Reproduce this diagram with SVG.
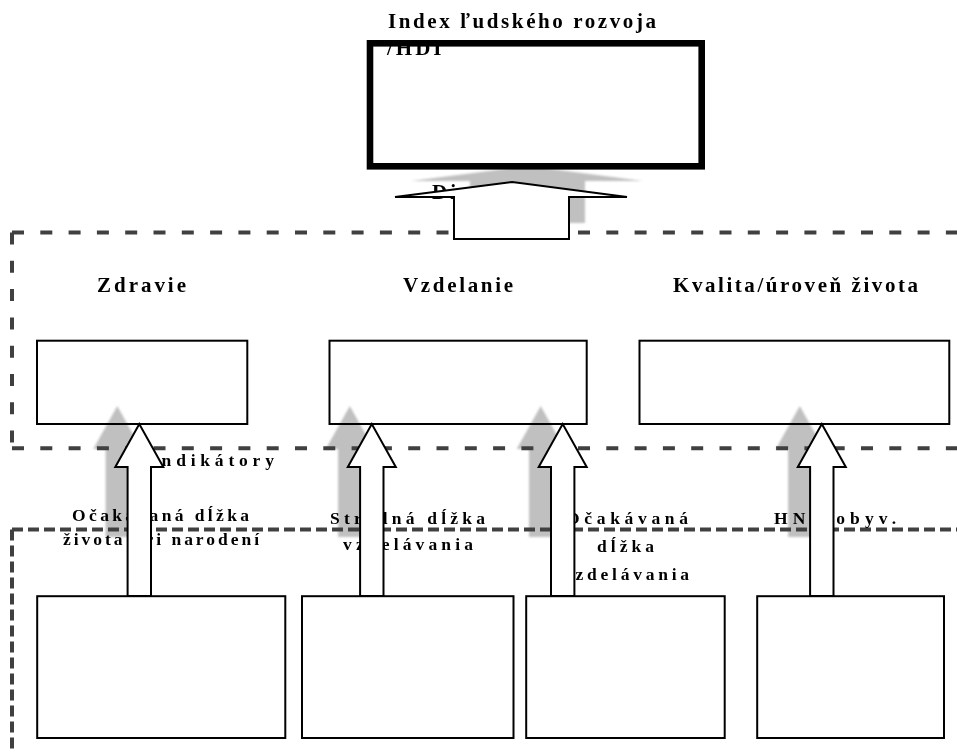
<svg xmlns="http://www.w3.org/2000/svg" xmlns:xlink="http://www.w3.org/1999/xlink" width="957" height="753" viewBox="0 0 957 753">
<style>
text{font-family:"Liberation Serif","Times New Roman",serif;font-weight:bold;fill:#000}
.h{font-size:21px}
.l{font-size:17.5px}
.box{fill:none;stroke:#000;stroke-width:2}
.boxw{fill:#fff;stroke:#000;stroke-width:2}
.dashU{fill:none;stroke:#404040;stroke-width:4;stroke-dasharray:12 16.3}
.dashL{fill:none;stroke:#404040;stroke-width:4;stroke-dasharray:11 5}
.arrow{fill:#fff;stroke:#000;stroke-width:2;stroke-linejoin:miter}
.shadow{fill:#c0c0c0;stroke:none}
</style>
<defs>
<filter id="soft" x="-30%" y="-30%" width="160%" height="160%"><feGaussianBlur stdDeviation="1.2"/></filter>
<path id="upArrow" d="M-11.7,172 V43 H-24 L0,0 L24,43 H11.7 V172 Z"/>
<path id="upShadow" d="M-11.7,131 V43 H-24 L0,0 L24,43 H11.7 V131 Z"/>
</defs>
<rect x="0" y="0" width="957" height="753" fill="#fff"/>

<g id="shadows" class="shadow" filter="url(#soft)">
<polygon points="470,223 470,181 411,181 528,166 643,181 585,181 585,223"/>
<use xlink:href="#upShadow" transform="translate(117.3,406)"/>
<use xlink:href="#upShadow" transform="translate(349.8,406)"/>
<use xlink:href="#upShadow" transform="translate(540.7,406)"/>
<use xlink:href="#upShadow" transform="translate(799.8,406)"/>
</g>

<g id="layer-dimenzie">
<path class="dashU" d="M12,232.5 H957"/>
<path class="dashU" d="M12,232.5 V448.3"/>
<path class="dashU" d="M12,448.3 H957"/>
<text class="h" x="432" y="199" letter-spacing="3">Dimenzie</text>
</g>

<g id="layer-indikatory">
<path class="dashL" d="M12,529.5 H957"/>
<path class="dashL" d="M12,529.5 V753"/>
<text class="l" x="150" y="466" letter-spacing="4.8">Indikátory</text>
</g>

<g id="hdi">
<rect x="370" y="43.3" width="331.7" height="123" fill="#fff" stroke="#000" stroke-width="6.6"/>
<text class="h" x="388" y="28" textLength="268">Index ľudského rozvoja</text>
<text class="h" x="387" y="55" letter-spacing="3">/HDI</text>
</g>

<g id="zdravie">
<rect class="box" x="37" y="340.7" width="210.3" height="83.3"/>
<text class="h" x="97" y="291.5" textLength="89">Zdravie</text>
</g>
<g id="vzdelanie">
<rect class="box" x="329.5" y="340.7" width="257.2" height="83.3"/>
<text class="h" x="403" y="291.5" textLength="110">Vzdelanie</text>
</g>
<g id="kvalita">
<rect class="box" x="639.5" y="340.7" width="309.8" height="83.3"/>
<text class="h" x="673" y="291.5" textLength="245">Kvalita/úroveň života</text>
</g>

<g id="ind-ocakavana-dlzka-zivota">
<rect class="boxw" x="37.2" y="596.2" width="248.1" height="141.8"/>
<text class="l" x="72" y="521" textLength="177">Očakávaná dĺžka</text>
<text class="l" x="63" y="544.5" textLength="196">života pri narodení</text>
</g>
<g id="ind-stredna-dlzka-vzdelavania">
<rect class="boxw" x="302" y="596.2" width="211.5" height="141.8"/>
<text class="l" x="330" y="524" textLength="155">Stredná dĺžka</text>
<text class="l" x="343" y="550" textLength="130">vzdelávania</text>
</g>
<g id="ind-ocakavana-dlzka-vzdelavania">
<rect class="boxw" x="526.2" y="596.2" width="198.5" height="141.8"/>
<text class="l" x="566" y="523.5" textLength="122">Očakávaná</text>
<text class="l" x="597" y="551.5" textLength="57">dĺžka</text>
<text class="l" x="563" y="580" textLength="126">vzdelávania</text>
</g>
<g id="ind-hnp">
<rect class="boxw" x="757.2" y="596.2" width="186.8" height="141.8"/>
<text class="l" x="774" y="523.5" textLength="122">HNP/obyv.</text>
</g>

<g id="connectors" class="arrow">
<polygon points="454,239 454,197 395,197 512,182 627,197 569,197 569,239"/>
<use xlink:href="#upArrow" transform="translate(139.3,424)"/>
<use xlink:href="#upArrow" transform="translate(371.8,424)"/>
<use xlink:href="#upArrow" transform="translate(562.7,424)"/>
<use xlink:href="#upArrow" transform="translate(821.8,424)"/>
</g>
</svg>
